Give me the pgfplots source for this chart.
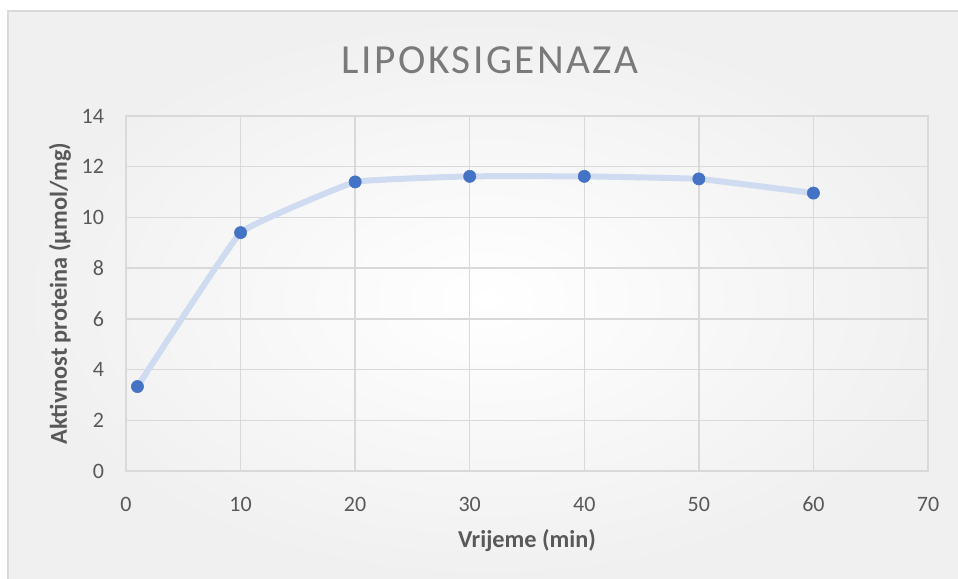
\documentclass[border=0pt]{standalone}
\usepackage{fontspec}
\setmainfont{Carlito}
\usepackage{pgfplots}
\pgfplotsset{compat=1.18}
\definecolor{gridgray}{HTML}{D9D9D9}
\definecolor{ticktext}{HTML}{595959}
\definecolor{titletext}{HTML}{7A7A7A}
\definecolor{markblue}{HTML}{4472C4}
\definecolor{lineblue}{HTML}{CFDBF0}
\begin{document}
\begin{tikzpicture}
\useasboundingbox (0,0) rectangle (718.5pt,434.25pt);
\fill[white] (0,0) rectangle (718.5pt,434.25pt);
\shade[inner color=white, outer color=black!6] (6pt,-6pt) rectangle (726pt,426pt);
\draw[gridgray, line width=1pt] (6pt,-6pt) rectangle (726pt,426pt);
\node[text=titletext, font=\fontsize{31}{36}\selectfont\addfontfeatures{LetterSpace=6}, inner sep=0pt] at (367.5pt,389.25pt) {LIPOKSIGENAZA};
\begin{axis}[
  at={(94.5pt,81pt)}, anchor=south west,
  scale only axis,
  width=601.5pt, height=266.25pt,
  xmin=0, xmax=70, ymin=0, ymax=14,
  xtick={0,10,...,70}, ytick={0,2,...,14},
  grid=major,
  major grid style={gridgray, line width=1pt},
  axis line style={gridgray, line width=1pt},
  major tick length=0pt,
  /pgf/number format/assume math mode=true,
  tick label style={text=ticktext, font=\fontsize{16.5}{19}\selectfont},
  xticklabel style={yshift=-16pt},
  yticklabel style={xshift=-13pt},
  xlabel={\textbf{Vrijeme (min)}},
  ylabel={\textbf{Aktivnost proteina (µmol/mg)}},
  label style={text=ticktext, font=\fontsize{18.2}{21}\selectfont},
  xlabel style={at={(axis description cs:0.5,0)}, anchor=center, yshift=-52.5pt},
  ylabel style={at={(axis description cs:0,0.5)}, anchor=center, rotate=0, yshift=49.5pt},
]
\addplot[lineblue, line width=4.5pt, smooth, tension=0.15] coordinates {
  (1,3.33) (10,9.40) (20,11.40) (30,11.62) (40,11.62) (50,11.52) (60,10.96)
};
\addplot[only marks, mark=*, mark size=4.6pt, markblue, mark options={fill=markblue, draw=markblue}] coordinates {
  (1,3.33) (10,9.40) (20,11.40) (30,11.62) (40,11.62) (50,11.52) (60,10.96)
};
\end{axis}
\end{tikzpicture}
\end{document}
